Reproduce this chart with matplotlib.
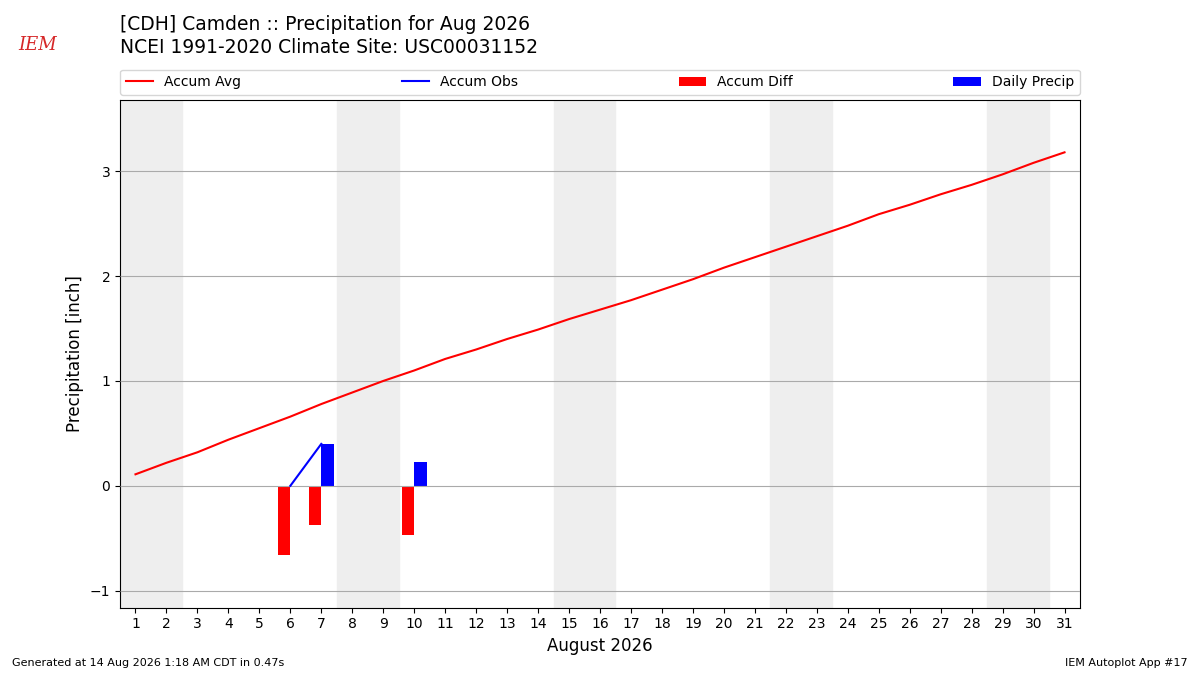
import matplotlib.pyplot as plt

# Datos (pulgadas)
days = list(range(1, 32))
accum_avg = [0.11, 0.22, 0.32, 0.44, 0.55, 0.66, 0.78, 0.89, 1.00, 1.10,
             1.21, 1.30, 1.40, 1.49, 1.59, 1.68, 1.77, 1.87, 1.97, 2.08,
             2.18, 2.28, 2.38, 2.48, 2.59, 2.68, 2.78, 2.87, 2.97, 3.08, 3.18]
obs_days = [6, 7]
accum_obs = [0.0, 0.40]
diff_days = [6, 7, 10]
accum_diff = [-0.66, -0.37, -0.47]
precip_days = [7, 10]
daily_precip = [0.40, 0.23]
weekends = [1, 8, 15, 22, 29]

fig = plt.figure(figsize=(12, 6.75), dpi=100)
ax = fig.add_axes([0.1, 0.1, 0.8, 0.752])

for w in weekends:
    ax.axvspan(w - 0.5, w + 1.5, color='#eeeeee', zorder=0)

ax.plot(days, accum_avg, color='r', label='Accum Avg', zorder=3)
ax.plot(obs_days, accum_obs, color='b', label='Accum Obs', zorder=3)
ax.bar(diff_days, accum_diff, width=-0.4, align='edge', color='r',
       label='Accum Diff', zorder=2)
ax.bar(precip_days, daily_precip, width=0.4, align='edge', color='b',
       label='Daily Precip', zorder=2)

ax.set_xlim(0.5, 31.5)
ax.set_ylim(-1.16, 3.68)
ax.set_xticks(days)
ax.set_yticks([-1, 0, 1, 2, 3])
ax.yaxis.grid(True, color='#aaaaaa', linewidth=0.8)
ax.set_axisbelow(False)
ax.set_xlabel('August 2026', fontsize=12)
ax.set_ylabel('Precipitation [inch]', fontsize=12)

ax.legend(loc='lower left', bbox_to_anchor=(0, 1.01, 1, 0.05), ncol=4,
          mode='expand', borderaxespad=0, fontsize=10)

fig.text(0.1, 0.963, '[CDH] Camden :: Precipitation for Aug 2026',
         fontsize=13.5, va='center')
fig.text(0.1, 0.930, 'NCEI 1991-2020 Climate Site: USC00031152',
         fontsize=13.5, va='center')

# Logo aproximado
fig.text(0.031, 0.933, 'IEM', fontsize=13, color='#d62728', family='serif',
         style='italic', ha='center', va='center')

fig.text(0.01, 0.013, 'Generated at 14 Aug 2026 1:18 AM CDT in 0.47s',
         fontsize=8)
fig.text(0.99, 0.013, 'IEM Autoplot App #17', fontsize=8, ha='right')

fig.savefig('out.png')
